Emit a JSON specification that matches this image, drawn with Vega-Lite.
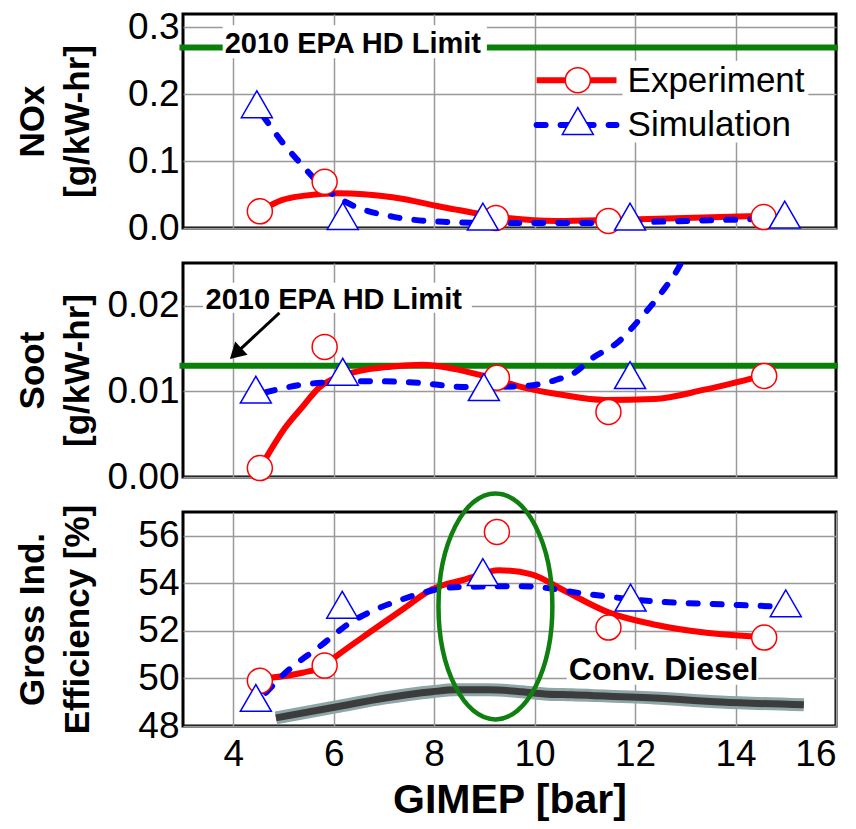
{
  "$schema": "https://vega.github.io/schema/vega-lite/v6.json",
  "padding": {"left": 13, "top": 6, "right": 5, "bottom": 2},
  "background": "white",
  "config": {
    "view": {"stroke": "black", "strokeWidth": 3},
    "font": "Liberation Sans",
    "axis": {
      "grid": true, "gridColor": "#999999", "gridWidth": 1.5, "gridOpacity": 1,
      "domain": false, "ticks": false, "tickSize": 0,
      "labelFont": "Liberation Sans", "labelFontSize": 37, "labelColor": "black",
      "titleFont": "Liberation Sans", "titleFontSize": 35, "titleFontWeight": "bold",
      "titleColor": "black", "titleLineHeight": 45
    }
  },
  "spacing": 35,
  "bounds": "flush",
  "datasets": {
    "nox_exp": [
      {"x": 4.53, "y": 0.025}, {"x": 5.82, "y": 0.069}, {"x": 9.23, "y": 0.015},
      {"x": 11.47, "y": 0.0105}, {"x": 14.56, "y": 0.0164}
    ],
    "nox_sim": [
      {"x": 4.47, "y": 0.185}, {"x": 6.18, "y": 0.018}, {"x": 8.97, "y": 0.017},
      {"x": 11.9, "y": 0.017}, {"x": 14.98, "y": 0.02}
    ],
    "nox_exp_fit": [
      {"x": 4.53, "y": 0.025}, {"x": 4.98, "y": 0.042}, {"x": 5.38, "y": 0.048},
      {"x": 6.08, "y": 0.052}, {"x": 7.17, "y": 0.046}, {"x": 8.26, "y": 0.03},
      {"x": 9.35, "y": 0.016}, {"x": 10.44, "y": 0.0105}, {"x": 11.53, "y": 0.012},
      {"x": 12.98, "y": 0.015}, {"x": 14.43, "y": 0.018}
    ],
    "nox_sim_fit": [
      {"x": 4.59, "y": 0.168}, {"x": 4.98, "y": 0.128}, {"x": 5.3, "y": 0.1},
      {"x": 5.78, "y": 0.062}, {"x": 6.29, "y": 0.037}, {"x": 7.17, "y": 0.017},
      {"x": 8.26, "y": 0.009}, {"x": 9.35, "y": 0.0075}, {"x": 10.8, "y": 0.0075},
      {"x": 12.25, "y": 0.009}, {"x": 13.71, "y": 0.012}, {"x": 14.57, "y": 0.0135}
    ],
    "nox_limit": [{"x": 2.93, "x2": 16.04, "y": 0.27}],
    "nox_limit_box": [{"x": 3.79, "x2": 9.05, "y": 0.254, "y2": 0.303}],
    "nox_limit_text": [{"x": 3.83, "y": 0.261, "label": "2010 EPA HD Limit"}],
    "nox_legend_box": [{"x": 11.75, "x2": 15.45, "y": 0.128, "y2": 0.25}],
    "nox_legend_exp_line": [{"x": 10.04, "x2": 11.63, "y": 0.221}],
    "nox_legend_sim_line": [{"x": 10.04, "x2": 11.63, "y": 0.154}],
    "nox_legend_exp_mark": [{"x": 10.86, "y": 0.221}],
    "nox_legend_sim_mark": [{"x": 10.86, "y": 0.16}],
    "nox_legend_text": [
      {"x": 11.85, "y": 0.203, "label": "Experiment"},
      {"x": 11.85, "y": 0.137, "label": "Simulation"}
    ],
    "soot_exp": [
      {"x": 4.53, "y": 0.00105}, {"x": 5.82, "y": 0.0152}, {"x": 9.25, "y": 0.0116},
      {"x": 11.47, "y": 0.0076}, {"x": 14.57, "y": 0.0118}
    ],
    "soot_sim": [
      {"x": 4.45, "y": 0.0102}, {"x": 6.18, "y": 0.0123}, {"x": 8.99, "y": 0.0105},
      {"x": 11.9, "y": 0.0119}
    ],
    "soot_exp_fit": [
      {"x": 4.65, "y": 0.0022}, {"x": 5.04, "y": 0.0058}, {"x": 5.38, "y": 0.0082},
      {"x": 5.72, "y": 0.0105}, {"x": 6.04, "y": 0.0116}, {"x": 6.37, "y": 0.0122},
      {"x": 6.71, "y": 0.0126}, {"x": 7.17, "y": 0.0129}, {"x": 7.76, "y": 0.0131},
      {"x": 8.42, "y": 0.0126}, {"x": 8.99, "y": 0.0118}, {"x": 9.75, "y": 0.0105},
      {"x": 10.54, "y": 0.0096}, {"x": 11.39, "y": 0.009}, {"x": 12.38, "y": 0.0091},
      {"x": 13.38, "y": 0.0102}, {"x": 14.31, "y": 0.0115}
    ],
    "soot_sim_fit": [
      {"x": 4.65, "y": 0.0099}, {"x": 5.38, "y": 0.0108}, {"x": 6.04, "y": 0.0111},
      {"x": 6.71, "y": 0.0112}, {"x": 7.7, "y": 0.011}, {"x": 8.62, "y": 0.0105},
      {"x": 9.75, "y": 0.0106}, {"x": 10.4, "y": 0.0113}, {"x": 10.8, "y": 0.0122},
      {"x": 11.13, "y": 0.0138}, {"x": 11.67, "y": 0.0158}, {"x": 12.13, "y": 0.0187},
      {"x": 12.52, "y": 0.0215}, {"x": 12.88, "y": 0.0246}, {"x": 13.15, "y": 0.028}
    ],
    "soot_limit": [{"x": 2.93, "x2": 16.04, "y": 0.013}],
    "soot_limit_box": [{"x": 3.4, "x2": 8.75, "y": 0.0192, "y2": 0.0227}],
    "soot_limit_text": [{"x": 3.45, "y": 0.01965, "label": "2010 EPA HD Limit"}],
    "soot_arrow": [{"x": 4.92, "x2": 4.048, "y": 0.01918, "y2": 0.01442}],
    "soot_arrow_head": [{"x": 4.048, "y": 0.01442}],
    "eff_exp": [
      {"x": 4.53, "y": 49.9}, {"x": 5.82, "y": 50.54}, {"x": 9.25, "y": 56.16},
      {"x": 11.47, "y": 52.14}, {"x": 14.57, "y": 51.72}
    ],
    "eff_sim": [
      {"x": 4.45, "y": 49.18}, {"x": 6.17, "y": 53.1}, {"x": 8.97, "y": 54.47},
      {"x": 11.91, "y": 53.4}, {"x": 15.0, "y": 53.16}
    ],
    "eff_exp_fit": [
      {"x": 4.73, "y": 50.03}, {"x": 5.38, "y": 50.24}, {"x": 5.78, "y": 50.5},
      {"x": 6.04, "y": 50.92}, {"x": 6.71, "y": 51.93}, {"x": 7.37, "y": 52.9},
      {"x": 7.96, "y": 53.75}, {"x": 8.62, "y": 54.17}, {"x": 9.29, "y": 54.55},
      {"x": 9.94, "y": 54.38}, {"x": 10.54, "y": 53.75}, {"x": 11.47, "y": 52.78},
      {"x": 12.38, "y": 52.27}, {"x": 13.38, "y": 51.93}, {"x": 14.37, "y": 51.76}
    ],
    "eff_sim_fit": [
      {"x": 4.65, "y": 49.4}, {"x": 5.04, "y": 50.24}, {"x": 5.72, "y": 51.34},
      {"x": 6.37, "y": 52.4}, {"x": 6.71, "y": 52.78}, {"x": 7.37, "y": 53.33},
      {"x": 7.96, "y": 53.7}, {"x": 8.42, "y": 53.84}, {"x": 9.75, "y": 53.88},
      {"x": 11.08, "y": 53.54}, {"x": 12.38, "y": 53.24}, {"x": 13.71, "y": 53.12},
      {"x": 14.77, "y": 53.03}
    ],
    "eff_diesel": [
      {"x": 4.85, "y": 48.34}, {"x": 6.04, "y": 48.8}, {"x": 7.03, "y": 49.18},
      {"x": 7.96, "y": 49.44}, {"x": 8.42, "y": 49.52}, {"x": 9.09, "y": 49.52},
      {"x": 9.75, "y": 49.44}, {"x": 10.2, "y": 49.35}, {"x": 10.74, "y": 49.31},
      {"x": 12.38, "y": 49.18}, {"x": 13.71, "y": 49.01}, {"x": 15.36, "y": 48.89}
    ],
    "eff_diesel_box": [{"x": 10.64, "x2": 14.45, "y": 49.73, "y2": 51.21}],
    "eff_diesel_text": [{"x": 10.68, "y": 49.95, "label": "Conv. Diesel"}],
    "eff_ellipse": [{"x": 9.22, "y": 53.03}]
  },
  "vconcat": [
    {
      "width": 653, "height": 214,
      "encoding": {
        "x": {"field": "x", "type": "quantitative", "scale": {"domain": [3, 16], "nice": false, "zero": false},
              "axis": {"values": [4, 6, 8, 10, 12, 14], "labels": false, "title": null}},
        "y": {"field": "y", "type": "quantitative", "scale": {"domain": [0, 0.32], "nice": false, "zero": false},
              "axis": {"values": [0, 0.1, 0.2, 0.3], "format": ".1f", "title": ["NOx", "[g/kW-hr]"],
                       "titleX": -133, "titleY": 107, "titleAngle": -90, "titleBaseline": "bottom", "titleAlign": "center", "labelPadding": 4}}
      },
      "layer": [
        {"data": {"name": "nox_limit"}, "mark": {"type": "rule", "stroke": "#0a800a", "strokeWidth": 6},
         "encoding": {"x2": {"field": "x2"}}},
        {"data": {"name": "nox_limit_box"}, "mark": {"type": "rect", "fill": "white"},
         "encoding": {"x2": {"field": "x2"}, "y2": {"field": "y2"}}},
        {"data": {"name": "nox_limit_text"}, "mark": {"type": "text", "align": "left", "baseline": "alphabetic", "fontSize": 29, "fontWeight": "bold", "font": "Liberation Sans", "color": "black"},
         "encoding": {"text": {"field": "label"}}},
        {"data": {"name": "nox_legend_box"}, "mark": {"type": "rect", "fill": "white"},
         "encoding": {"x2": {"field": "x2"}, "y2": {"field": "y2"}}},
        {"data": {"name": "nox_exp_fit"}, "mark": {"type": "line", "stroke": "#ff0000", "strokeWidth": 6, "interpolate": "monotone", "strokeCap": "round"}},
        {"data": {"name": "nox_sim_fit"}, "mark": {"type": "line", "stroke": "#0000ff", "strokeWidth": 6, "interpolate": "monotone", "strokeCap": "round", "strokeDash": [9, 15]}},
        {"data": {"name": "nox_exp"}, "mark": {"type": "point", "shape": "circle", "size": 625, "filled": true, "fill": "white", "stroke": "#ff0000", "strokeWidth": 1.5, "opacity": 1}},
        {"data": {"name": "nox_sim"}, "mark": {"type": "point", "shape": "triangle-up", "size": 961, "filled": true, "fill": "white", "stroke": "#0000ff", "strokeWidth": 1.5, "opacity": 1}},
        {"data": {"name": "nox_legend_exp_line"}, "mark": {"type": "rule", "stroke": "#ff0000", "strokeWidth": 6}, "encoding": {"x2": {"field": "x2"}}},
        {"data": {"name": "nox_legend_sim_line"}, "mark": {"type": "rule", "stroke": "#0000ff", "strokeWidth": 6, "strokeCap": "round", "strokeDash": [9, 15]}, "encoding": {"x2": {"field": "x2"}}},
        {"data": {"name": "nox_legend_exp_mark"}, "mark": {"type": "point", "shape": "circle", "size": 625, "filled": true, "fill": "white", "stroke": "#ff0000", "strokeWidth": 1.5, "opacity": 1}},
        {"data": {"name": "nox_legend_sim_mark"}, "mark": {"type": "point", "shape": "triangle-up", "size": 961, "filled": true, "fill": "white", "stroke": "#0000ff", "strokeWidth": 1.5, "opacity": 1}},
        {"data": {"name": "nox_legend_text"}, "mark": {"type": "text", "align": "left", "baseline": "alphabetic", "fontSize": 35, "font": "Liberation Sans", "color": "black"},
         "encoding": {"text": {"field": "label"}}}
      ]
    },
    {
      "width": 653, "height": 214,
      "encoding": {
        "x": {"field": "x", "type": "quantitative", "scale": {"domain": [3, 16], "nice": false, "zero": false},
              "axis": {"values": [4, 6, 8, 10, 12, 14], "labels": false, "title": null}},
        "y": {"field": "y", "type": "quantitative", "scale": {"domain": [0, 0.025], "nice": false, "zero": false},
              "axis": {"values": [0, 0.01, 0.02], "format": ".2f", "title": ["Soot", "[g/kW-hr]"],
                       "titleX": -133, "titleY": 107, "titleAngle": -90, "titleBaseline": "bottom", "titleAlign": "center", "labelPadding": 4}}
      },
      "layer": [
        {"data": {"name": "soot_limit_box"}, "mark": {"type": "rect", "fill": "white"},
         "encoding": {"x2": {"field": "x2"}, "y2": {"field": "y2"}}},
        {"data": {"name": "soot_limit_text"}, "mark": {"type": "text", "align": "left", "baseline": "alphabetic", "fontSize": 29, "fontWeight": "bold", "font": "Liberation Sans", "color": "black"},
         "encoding": {"text": {"field": "label"}}},
        {"data": {"name": "soot_limit"}, "mark": {"type": "rule", "stroke": "#0a800a", "strokeWidth": 6},
         "encoding": {"x2": {"field": "x2"}}},
        {"data": {"name": "soot_arrow"}, "mark": {"type": "rule", "stroke": "black", "strokeWidth": 3},
         "encoding": {"x2": {"field": "x2"}, "y2": {"field": "y2"}}},
        {"data": {"name": "soot_arrow_head"}, "mark": {"type": "point", "shape": "triangle-up", "size": 330, "filled": true, "fill": "black", "strokeWidth": 0, "angle": 227, "opacity": 1}},
        {"data": {"name": "soot_exp_fit"}, "mark": {"type": "line", "stroke": "#ff0000", "strokeWidth": 6, "interpolate": "monotone", "strokeCap": "round"}},
        {"data": {"name": "soot_sim_fit"}, "mark": {"type": "line", "stroke": "#0000ff", "strokeWidth": 6, "interpolate": "monotone", "strokeCap": "round", "strokeDash": [9, 15], "clip": true}},
        {"data": {"name": "soot_exp"}, "mark": {"type": "point", "shape": "circle", "size": 625, "filled": true, "fill": "white", "stroke": "#ff0000", "strokeWidth": 1.5, "opacity": 1}},
        {"data": {"name": "soot_sim"}, "mark": {"type": "point", "shape": "triangle-up", "size": 961, "filled": true, "fill": "white", "stroke": "#0000ff", "strokeWidth": 1.5, "opacity": 1}}
      ]
    },
    {
      "width": 653, "height": 214,
      "encoding": {
        "x": {"field": "x", "type": "quantitative", "scale": {"domain": [3, 16], "nice": false, "zero": false},
              "axis": {"values": [4, 6, 8, 10, 12, 14, 16], "title": "GIMEP [bar]", "titleFontSize": 41, "labelPadding": 10, "titlePadding": 8}},
        "y": {"field": "y", "type": "quantitative", "scale": {"domain": [48, 57], "nice": false, "zero": false},
              "axis": {"values": [48, 50, 52, 54, 56], "format": "d", "title": ["Gross Ind.", "Efficiency [%]"],
                       "titleX": -133, "titleY": 107, "titleAngle": -90, "titleBaseline": "bottom", "titleAlign": "center", "labelPadding": 4}}
      },
      "layer": [
        {"data": {"name": "eff_diesel_box"}, "mark": {"type": "rect", "fill": "white"},
         "encoding": {"x2": {"field": "x2"}, "y2": {"field": "y2"}}},
        {"data": {"name": "eff_diesel_text"}, "mark": {"type": "text", "align": "left", "baseline": "alphabetic", "fontSize": 32, "fontWeight": "bold", "font": "Liberation Sans", "color": "black"},
         "encoding": {"text": {"field": "label"}}},
        {"data": {"name": "eff_diesel"}, "mark": {"type": "line", "stroke": "#8fa6a6", "strokeWidth": 13, "interpolate": "monotone"}},
        {"data": {"name": "eff_diesel"}, "mark": {"type": "line", "stroke": "#3c3c3c", "strokeWidth": 7, "interpolate": "monotone"}},
        {"data": {"name": "eff_exp_fit"}, "mark": {"type": "line", "stroke": "#ff0000", "strokeWidth": 6, "interpolate": "monotone", "strokeCap": "round"}},
        {"data": {"name": "eff_sim_fit"}, "mark": {"type": "line", "stroke": "#0000ff", "strokeWidth": 6, "interpolate": "monotone", "strokeCap": "round", "strokeDash": [9, 15]}},
        {"data": {"name": "eff_exp"}, "mark": {"type": "point", "shape": "circle", "size": 625, "filled": true, "fill": "white", "stroke": "#ff0000", "strokeWidth": 1.5, "opacity": 1}},
        {"data": {"name": "eff_sim"}, "mark": {"type": "point", "shape": "triangle-up", "size": 961, "filled": true, "fill": "white", "stroke": "#0000ff", "strokeWidth": 1.5, "opacity": 1}},
        {"data": {"name": "eff_ellipse"}, "mark": {"type": "point", "shape": "M0,-1 C0.278,-1 0.504,-0.552 0.504,0 C0.504,0.552 0.278,1 0,1 C-0.278,1 -0.504,0.552 -0.504,0 C-0.504,-0.552 -0.278,-1 0,-1 Z", "size": 51076, "filled": false, "stroke": "#0f7f0f", "strokeWidth": 4.5, "opacity": 1}}
      ]
    }
  ]
}
